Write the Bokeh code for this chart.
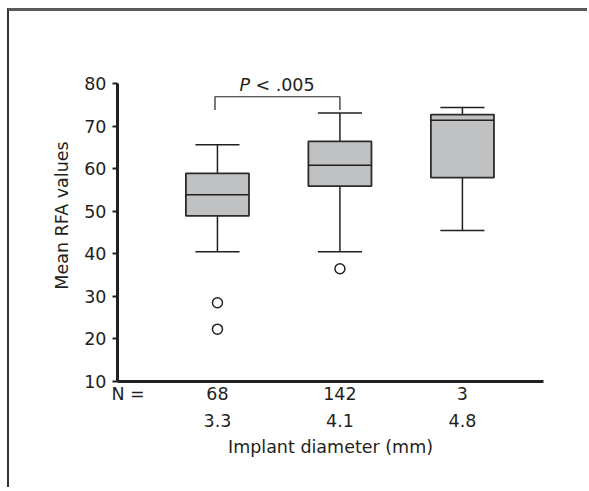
from bokeh.plotting import figure
from bokeh.models import LinearAxis, FixedTicker, Range1d, Label
from bokeh.embed import file_html
from bokeh.resources import INLINE

# Data
positions = [1, 2, 3]
n_tick = 0.27
n_labels = ["68", "142", "3"]
diam_labels = ["3.3", "4.1", "4.8"]
q1 = [48.9, 55.9, 57.9]
median = [53.9, 60.8, 71.4]
q3 = [58.9, 66.4, 72.7]
whisk_low = [40.5, 40.5, 45.5]
whisk_high = [65.6, 73.1, 74.4]
outlier_x = [1, 1, 2]
outlier_y = [28.5, 22.3, 36.5]
y_ticks = [10, 20, 30, 40, 50, 60, 70, 80]
bracket_x = [0.98, 2.0]
bracket_y = [73.8, 76.9]

FONT = "DejaVu Sans"
FS = "17.5px"
TXT = "#231f20"

p = figure(width=580, height=479, output_backend="svg", toolbar_location=None,
           x_range=Range1d(0.184, 3.662), y_range=Range1d(10, 88),
           min_border_left=108, min_border_right=46, min_border_top=38,
           min_border_bottom=109)
p.styles = {"border-top": "3px solid #5a5a5a", "border-left": "2px solid #333333",
            "margin-left": "7px", "margin-top": "8px"}
p.outline_line_color = None
p.grid.visible = False

# y axis
ya = p.yaxis[0]
ya.ticker = FixedTicker(ticks=y_ticks)
ya.bounds = (10, 80)
ya.axis_line_width = 3
ya.axis_line_color = "#231f20"
ya.major_tick_line_width = 2
ya.major_tick_line_color = "#231f20"
ya.major_tick_out = 5
ya.major_tick_in = 0
ya.minor_tick_line_color = None
ya.major_label_text_font = FONT
ya.major_label_text_font_size = FS
ya.major_label_text_color = TXT
ya.major_label_standoff = 6
ya.axis_label = "Mean RFA values"
ya.axis_label_text_font = FONT
ya.axis_label_text_font_size = FS
ya.axis_label_text_font_style = "normal"
ya.axis_label_text_color = TXT
ya.axis_label_standoff = 9

# x axis (N row)
xa = p.xaxis[0]
xa.ticker = FixedTicker(ticks=[n_tick] + positions)
overrides = {n_tick: "N ="}
overrides.update({pos: lab for pos, lab in zip(positions, n_labels)})
xa.major_label_overrides = overrides
xa.axis_line_width = 3
xa.axis_line_color = "#231f20"
xa.major_tick_line_color = None
xa.minor_tick_line_color = None
xa.major_label_text_font = FONT
xa.major_label_text_font_size = FS
xa.major_label_text_color = TXT
xa.major_label_standoff = -4

# second x axis (diameter row)
xa2 = LinearAxis(ticker=FixedTicker(ticks=positions),
                 major_label_overrides={pos: lab for pos, lab in zip(positions, diam_labels)},
                 axis_line_color=None, major_tick_line_color=None, minor_tick_line_color=None,
                 major_label_text_font=FONT, major_label_text_font_size=FS,
                 major_label_text_color=TXT, major_label_standoff=1,
                 axis_label="Implant diameter (mm)", axis_label_text_font=FONT,
                 axis_label_text_font_size=FS, axis_label_text_font_style="normal",
                 axis_label_text_color=TXT, axis_label_standoff=7)
p.add_layout(xa2, "below")

# whiskers
p.segment(x0=positions, y0=whisk_low, x1=positions, y1=q1, line_color="#231f20", line_width=1.5)
p.segment(x0=positions, y0=q3, x1=positions, y1=whisk_high, line_color="#231f20", line_width=1.5)
cap = 0.18
p.segment(x0=[x - cap for x in positions], y0=whisk_low, x1=[x + cap for x in positions], y1=whisk_low,
          line_color="#231f20", line_width=1.5)
p.segment(x0=[x - cap for x in positions], y0=whisk_high, x1=[x + cap for x in positions], y1=whisk_high,
          line_color="#231f20", line_width=1.5)

# boxes
p.vbar(x=positions, width=0.515, bottom=q1, top=q3, fill_color="#c0c1c3",
       line_color="#2b2b2b", line_width=1.8)
bw = 0.515 / 2
p.segment(x0=[x - bw for x in positions], y0=median, x1=[x + bw for x in positions], y1=median,
          line_color="#231f20", line_width=1.5)

# outliers
p.scatter(x=outlier_x, y=outlier_y, marker="circle", size=10, fill_color="white",
          line_color="#231f20", line_width=1.5)

# bracket
p.line(x=[bracket_x[0], bracket_x[0], bracket_x[1], bracket_x[1]],
       y=[bracket_y[0], bracket_y[1], bracket_y[1], bracket_y[0]],
       line_color="#231f20", line_width=1.2)

p.add_layout(Label(x=1.18, y=79.6, text="P", text_font=FONT, text_font_size=FS,
                   text_font_style="italic", text_color=TXT, text_baseline="alphabetic"))
p.add_layout(Label(x=1.31, y=79.6, text="< .005", text_font=FONT, text_font_size=FS,
                   text_color=TXT, text_baseline="alphabetic"))

open("out.html", "w").write(file_html(p, INLINE))
